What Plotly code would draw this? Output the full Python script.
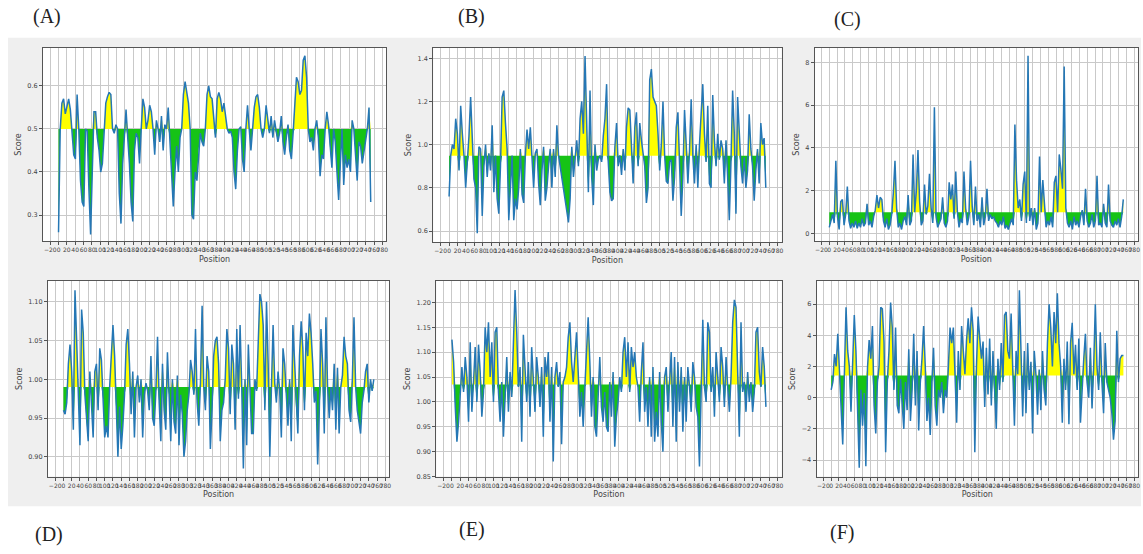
import numpy as np
import plotly.graph_objects as go

# Sequence length shared by all six profiles (residue positions 0 .. SEQ_LEN-1)
SEQ_LEN = 753

# (A) score profile, threshold 0.5
scores_a = [
    0.26, 0.50, 0.56, 0.57, 0.535, 0.55, 0.57, 0.545, 0.50, 0.44, 0.43, 0.58, 0.50, 0.38, 0.33, 0.32,
    0.50, 0.495, 0.36, 0.255, 0.40, 0.54, 0.54, 0.48, 0.45, 0.40, 0.42, 0.50, 0.56, 0.575, 0.585, 0.58,
    0.50, 0.49, 0.51, 0.50, 0.35, 0.28, 0.42, 0.48, 0.545, 0.48, 0.42, 0.33, 0.285, 0.45, 0.49, 0.48,
    0.42, 0.50, 0.57, 0.55, 0.50, 0.52, 0.555, 0.54, 0.50, 0.44, 0.52, 0.50, 0.47, 0.53, 0.45, 0.51,
    0.50, 0.55, 0.48, 0.40, 0.32, 0.40, 0.46, 0.40, 0.48, 0.50, 0.58, 0.61, 0.585, 0.56, 0.50, 0.30,
    0.29, 0.40, 0.38, 0.45, 0.49, 0.47, 0.46, 0.50, 0.58, 0.60, 0.575, 0.57, 0.52, 0.48, 0.57, 0.585,
    0.57, 0.54, 0.56, 0.53, 0.50, 0.49, 0.495, 0.48, 0.40, 0.36, 0.45, 0.50, 0.505, 0.43, 0.40, 0.50,
    0.555, 0.50, 0.45, 0.50, 0.55, 0.575, 0.58, 0.55, 0.50, 0.48, 0.50, 0.555, 0.52, 0.49, 0.53, 0.48,
    0.52, 0.49, 0.47, 0.49, 0.53, 0.47, 0.44, 0.48, 0.51, 0.45, 0.43, 0.49, 0.57, 0.62, 0.61, 0.58,
    0.59, 0.66, 0.67, 0.62, 0.50, 0.47, 0.48, 0.45, 0.50, 0.52, 0.48, 0.39, 0.44, 0.43, 0.50, 0.54,
    0.51, 0.45, 0.41, 0.50, 0.47, 0.40, 0.335, 0.42, 0.50, 0.37, 0.44, 0.41, 0.43, 0.40, 0.52, 0.50,
    0.45, 0.38, 0.47, 0.46, 0.42, 0.45, 0.48, 0.50, 0.55, 0.33,
]

# (B) score profile, threshold 0.948
scores_b = [
    0.76, 0.95, 1.00, 0.98, 1.12, 1.05, 0.88, 1.18, 1.05, 0.95, 0.80, 0.90, 1.04, 1.22, 0.98, 0.84,
    0.80, 0.59, 0.99, 0.98, 0.67, 0.90, 1.00, 0.85, 0.96, 0.88, 1.09, 0.78, 0.95, 0.75, 0.68, 0.90,
    1.22, 1.25, 1.10, 0.98, 0.65, 0.78, 0.95, 0.65, 0.75, 0.70, 0.80, 0.98, 0.77, 0.73, 0.95, 1.07,
    0.98, 1.08, 0.95, 0.80, 0.96, 0.98, 0.82, 0.72, 0.88, 0.99, 0.74, 0.80, 0.90, 0.98, 0.80, 0.98,
    0.85, 1.09, 0.95, 0.90, 0.85, 0.80, 0.75, 0.70, 0.64, 0.75, 0.99, 0.85, 0.95, 1.02, 0.90, 1.12,
    1.20, 1.05, 1.41, 1.10, 0.78, 1.25, 0.85, 0.72, 1.00, 0.88, 0.93, 0.95, 0.92, 1.04, 1.12, 1.28,
    0.92, 0.78, 0.74, 0.75, 0.99, 1.10, 0.90, 0.95, 0.86, 0.98, 0.88, 1.08, 1.17, 1.16, 0.98, 0.82,
    1.08, 1.15, 0.90, 1.10, 1.02, 0.95, 0.90, 0.73, 0.80, 1.30, 1.35, 1.22, 1.20, 1.18, 1.05, 0.88,
    1.00, 1.20, 0.95, 0.83, 0.82, 0.92, 0.93, 0.74, 0.85, 1.08, 1.15, 0.95, 0.67, 0.85, 1.16, 1.00,
    0.82, 0.97, 1.21, 0.95, 0.82, 1.00, 0.80, 1.00, 1.12, 1.28, 1.05, 0.92, 1.18, 0.82, 0.80, 1.23,
    1.02, 0.90, 1.05, 0.93, 1.02, 0.98, 0.82, 1.02, 0.85, 0.65, 0.92, 1.25, 1.05, 0.68, 1.22, 1.02,
    0.90, 0.82, 0.94, 0.80, 0.88, 1.14, 0.98, 0.90, 0.74, 0.88, 0.98, 0.82, 1.10, 1.00, 1.03, 0.80,
]

# (C) score profile, threshold 1.0
scores_c = [
    0.3, 0.6, 0.9, 0.5, 3.4, 0.8, 0.2, 1.5, 1.6, 0.4, 0.9, 2.2, 0.6, 0.25, 0.5, 0.3,
    0.6, 0.25, 0.5, 0.3, 0.7, 0.35, 0.5, 1.4, 0.4, 0.6, 0.3, 0.8, 1.1, 1.8, 1.2, 1.7,
    1.6, 0.6, 0.3, 0.7, 0.2, 0.4, 0.9, 1.9, 3.4, 1.2, 0.3, 0.5, 0.2, 0.6, 0.8, 0.4,
    1.8, 0.4, 0.6, 3.7, 1.0, 2.0, 3.9, 1.5, 0.4, 0.6, 2.3, 0.9, 1.3, 2.8, 1.2, 0.5,
    5.9, 0.8, 0.3, 0.5, 0.7, 1.7, 0.5, 0.3, 0.6, 2.4, 1.6, 2.3, 0.7, 2.9, 1.0, 0.3,
    0.7, 0.5, 2.9, 1.2, 0.4, 0.8, 3.4, 1.3, 0.4, 2.2, 0.6, 0.9, 0.3, 1.7, 0.4, 0.8,
    2.1, 0.6, 0.9, 0.7, 0.8, 0.6, 0.5, 0.3, 0.6, 0.4, 0.8, 0.25, 0.4, 0.2, 0.5, 0.7,
    0.4, 5.1, 2.5, 1.2, 1.6, 0.6, 2.3, 2.9, 0.5, 8.3, 0.6, 1.2, 0.4, 1.2, 0.2, 0.5,
    3.6, 1.0, 2.5, 1.3, 0.3, 0.6, 0.4, 0.8, 0.3, 2.4, 2.7, 1.0, 3.7, 3.0, 2.1, 7.8,
    1.2, 0.5, 0.3, 0.6, 0.2, 0.8, 0.4, 0.6, 0.3, 0.8, 1.1, 0.4, 2.1, 0.6, 0.3, 0.5,
    0.9, 0.3, 0.6, 2.7, 0.4, 0.5, 0.3, 1.4, 0.5, 0.3, 2.3, 0.6, 0.4, 0.3, 0.6, 0.4,
    0.7, 0.3, 0.8, 1.6,
]

# (D) score profile, threshold 0.990
scores_d = [
    0.96, 0.955, 0.97, 1.02, 1.045, 1.01, 0.935, 1.115, 1.05, 0.99, 0.915, 1.09, 1.06, 0.98, 0.945, 0.92,
    1.01, 0.975, 0.925, 1.01, 1.02, 0.96, 1.04, 1.025, 0.975, 0.925, 0.94, 0.925, 0.99, 1.035, 1.07, 1.03,
    0.96, 0.90, 0.965, 0.91, 0.94, 0.98, 1.045, 1.065, 1.02, 0.955, 1.01, 0.925, 0.99, 1.005, 0.97, 1.00,
    0.925, 0.98, 0.995, 0.985, 0.96, 1.03, 0.95, 0.94, 0.985, 1.055, 0.97, 0.92, 1.02, 0.96, 0.935, 1.035,
    0.98, 0.92, 1.00, 0.945, 0.93, 1.005, 0.915, 0.98, 0.955, 0.90, 0.92, 0.96, 0.98, 1.025, 1.01, 0.98,
    1.065, 0.97, 0.94, 0.995, 1.095, 0.99, 0.96, 1.03, 1.01, 0.91, 0.96, 1.03, 1.05, 1.055, 1.02, 0.92,
    0.96, 0.97, 1.00, 1.065, 1.04, 0.955, 1.045, 1.02, 0.935, 1.065, 0.975, 1.07, 0.99, 0.885, 1.00, 0.915,
    1.045, 0.99, 0.93, 0.93, 1.00, 0.985, 1.05, 1.11, 1.10, 1.07, 0.96, 1.10, 1.02, 0.90, 0.99, 1.07,
    0.995, 0.97, 1.01, 0.985, 0.925, 1.04, 1.02, 0.98, 0.94, 1.00, 0.92, 1.07, 1.02, 0.96, 0.93, 1.03,
    1.075, 1.04, 0.96, 1.06, 1.03, 1.085, 1.06, 1.02, 0.97, 0.985, 0.89, 0.96, 1.065, 1.02, 0.93, 1.08,
    0.99, 0.95, 0.99, 0.96, 1.02, 0.935, 1.015, 0.93, 0.99, 1.005, 1.055, 1.03, 1.02, 0.96, 0.945, 1.00,
    1.08, 0.99, 0.96, 0.945, 0.93, 0.97, 0.985, 1.01, 1.02, 0.97, 1.00, 0.985, 1.00,
]

# (E) score profile, threshold 1.035
scores_e = [
    1.125, 1.08, 0.99, 0.92, 0.96, 1.03, 1.07, 1.02, 1.09, 1.05, 0.96, 1.12, 0.98, 1.04, 1.11, 1.00,
    1.115, 1.06, 0.97, 1.02, 1.15, 1.10, 1.16, 1.05, 1.12, 1.00, 1.14, 1.15, 1.02, 0.96, 1.04, 0.93,
    1.00, 1.09, 0.98, 1.06, 1.01, 1.10, 1.225, 1.14, 1.03, 1.07, 0.92, 1.135, 1.05, 1.00, 1.08, 0.97,
    1.11, 1.03, 0.98, 1.09, 1.05, 0.99, 1.07, 0.93, 1.09, 1.05, 1.10, 0.96, 1.07, 0.88, 1.05, 1.08,
    1.03, 1.06, 0.915, 1.04, 1.05, 1.07, 1.13, 1.16, 1.08, 1.04, 1.10, 1.14, 1.06, 0.97, 1.02, 0.95,
    1.03, 1.10, 1.17, 1.08, 0.97, 1.05, 0.95, 0.93, 1.03, 1.09, 0.99, 0.96, 1.02, 0.95, 0.94, 1.04,
    0.97, 1.06, 0.91, 0.97, 1.00, 1.05, 1.02, 1.10, 1.13, 1.05, 1.12, 1.02, 1.11, 1.07, 1.10, 1.05,
    1.03, 0.96, 1.06, 1.12, 0.98, 1.03, 0.95, 1.05, 0.93, 1.07, 0.92, 0.98, 0.93, 1.06, 0.96, 0.90,
    1.05, 1.07, 0.98, 1.05, 1.10, 0.95, 1.09, 0.92, 1.08, 0.98, 1.07, 0.94, 1.05, 0.96, 1.07, 1.03,
    0.98, 1.08, 1.05, 0.99, 0.97, 0.87, 1.05, 1.165, 1.03, 1.00, 1.16, 1.14, 1.02, 1.07, 0.97, 1.10,
    1.05, 1.00, 1.11, 1.07, 0.99, 1.09, 1.03, 0.98, 1.05, 1.16, 1.205, 1.19, 1.06, 0.93, 1.16, 1.02,
    1.04, 0.98, 1.06, 1.00, 1.04, 0.98, 1.02, 1.14, 1.15, 1.06, 1.03, 1.11, 1.07, 0.99,
]

# (F) score profile, threshold 1.43
scores_f = [
    0.5, 1.0, 2.8, 2.0, 4.1, 1.5, -0.5, -3.0, 1.5, 5.8, 3.0, 2.0, -0.9, 2.0, 5.3, 3.0,
    -1.0, -4.5, 0.5, -1.8, 0.3, -4.4, 1.9, 3.7, 2.5, 4.6, -0.5, -2.3, 1.0, 2.0, 5.8, 5.7,
    3.6, -3.5, 1.0, 3.0, 6.1, 4.5, 0.5, 4.5, -0.5, -1.0, 1.2, -0.2, -2.0, 1.0, -0.8, 3.1,
    -1.5, 0.5, 4.1, -0.5, 3.0, -2.1, 1.0, 2.5, 4.6, 2.0, -1.5, 0.0, -2.4, 1.0, 3.2, -0.5,
    -1.8, 0.5, 0.0, 1.0, -1.0, 0.5, 0.0, 2.0, 4.5, 3.5, 4.5, 1.5, -1.6, 3.0, 0.5, 4.6,
    3.0, 1.5, 3.7, 5.1, 3.5, 5.8, 4.3, -3.5, 2.0, 5.2, 3.8, 2.5, 3.6, -0.6, 3.2, 0.2,
    3.8, -0.5, 3.0, 0.0, -2.0, 2.5, 0.5, 3.5, 1.0, 5.3, 5.5, 3.0, 2.5, 5.4, 2.0, -1.8,
    3.0, 1.5, 6.9, 2.0, -1.2, 3.0, -1.0, 3.5, 0.5, 2.3, -2.3, 3.0, 1.5, -1.1, 1.8, -0.8,
    3.0, 0.5, -0.5, 3.5, 6.0, 4.5, 2.0, 5.5, 3.5, 6.7, 3.5, 2.0, -1.6, 2.5, 0.5, 3.6,
    -1.7, 3.5, 4.8, 1.5, 3.4, 0.5, 3.8, -1.6, 1.0, 2.5, 4.1, 1.0, 0.0, 3.2, -0.7, 2.0,
    6.0, 2.0, 0.5, 4.2, 1.0, -1.0, 3.5, 1.0, 0.5, 0.0, -1.0, -2.7, -1.5, 4.3, 1.0, 2.5,
    2.7, 2.7,
]

thresholds = [0.5, 0.948, 1.0, 0.990, 1.035, 1.43]
panel_labels = ["(A)", "(B)", "(C)", "(D)", "(E)", "(F)"]
y_ranges = [[0.239, 0.689], [0.548, 1.449], [-0.35, 8.68],
            [0.8745, 1.127], [0.85, 1.243], [-5.06, 7.49]]
y_ticks = [[0.3, 0.4, 0.5, 0.6], [0.6, 0.8, 1.0, 1.2, 1.4], [0, 2, 4, 6, 8],
           [0.90, 0.95, 1.00, 1.05, 1.10], [0.85, 0.90, 0.95, 1.00, 1.05, 1.10, 1.15, 1.20],
           [-4, -2, 0, 2, 4, 6]]
y_fmt = [".1f", ".1f", "d", ".2f", ".2f", "d"]
all_scores = [scores_a, scores_b, scores_c, scores_d, scores_e, scores_f]

W, H = 1143, 554
# plot-area boxes in pixels: (left, right, top, bottom)
boxes = [(43, 387, 48, 243), (434, 783, 48, 244), (816, 1140, 48, 243),
         (48, 390, 283, 480), (437, 783, 283, 480), (818, 1140, 283, 480)]
label_xy = [(47, 17), (472, 17), (849, 20), (49, 538), (473, 533), (843, 536)]

LINE = "#2577b5"
YELLOW = "#ffff00"
GREEN = "#16c316"
AXC = "#555555"
GRID = "#c9c9c9"
TXT = "#444444"

fig = go.Figure()
shapes = [dict(type="rect", xref="paper", yref="paper", x0=8 / W, x1=1.0,
               y0=1 - 510 / H, y1=1 - 38 / H, fillcolor="#efefef",
               line=dict(width=0), layer="below")]
annotations = []

xmin, xmax = -0.05 * (SEQ_LEN - 1), 1.05 * (SEQ_LEN - 1)

for i, vals in enumerate(all_scores):
    v = np.array(vals, dtype=float)
    pos = np.linspace(0, SEQ_LEN - 1, len(v))
    thr = thresholds[i]
    base = np.full_like(v, thr)
    upper = np.where(v > thr, v, thr)
    lower = np.where(v < thr, v, thr)
    xa = "x" if i == 0 else f"x{i + 1}"
    ya = "y" if i == 0 else f"y{i + 1}"
    common = dict(xaxis=xa, yaxis=ya, mode="lines", showlegend=False, hoverinfo="skip")
    fig.add_trace(go.Scatter(x=pos, y=base, line=dict(width=0), **common))
    fig.add_trace(go.Scatter(x=pos, y=upper, line=dict(width=0), fill="tonexty",
                             fillcolor=YELLOW, **common))
    fig.add_trace(go.Scatter(x=pos, y=base, line=dict(width=0), **common))
    fig.add_trace(go.Scatter(x=pos, y=lower, line=dict(width=0), fill="tonexty",
                             fillcolor=GREEN, **common))
    fig.add_trace(go.Scatter(x=pos, y=v, line=dict(color=LINE, width=1.5), **common))

    l, r, t, b = boxes[i]
    xkey = "xaxis" if i == 0 else f"xaxis{i + 1}"
    ykey = "yaxis" if i == 0 else f"yaxis{i + 1}"
    fig.layout[xkey] = dict(
        domain=[l / W, r / W], anchor=ya, range=[xmin, xmax],
        tickmode="linear", tick0=-20, dtick=20,
        tickfont=dict(family="DejaVu Sans", size=6, color=TXT),
        ticks="outside", ticklen=3, tickcolor=AXC, tickangle=0,
        showgrid=True, gridcolor=GRID, gridwidth=0.8,
        showline=True, linecolor=AXC, linewidth=1, mirror=True,
        zeroline=False,
        title=dict(text="Position", font=dict(family="DejaVu Sans", size=8, color=TXT),
                   standoff=3),
    )
    fig.layout[ykey] = dict(
        domain=[1 - b / H, 1 - t / H], anchor=xa, range=y_ranges[i],
        tickmode="array", tickvals=y_ticks[i], tickformat=y_fmt[i],
        tickfont=dict(family="DejaVu Sans", size=6.5, color=TXT),
        ticks="outside", ticklen=3, tickcolor=AXC,
        showgrid=True, gridcolor=GRID, gridwidth=0.8,
        showline=True, linecolor=AXC, linewidth=1, mirror=True,
        zeroline=False,
        title=dict(text="Score", font=dict(family="DejaVu Sans", size=8, color=TXT),
                   standoff=4),
    )
    shapes.append(dict(type="rect", xref="paper", yref="paper",
                       x0=l / W, x1=r / W, y0=1 - b / H, y1=1 - t / H,
                       fillcolor="white", line=dict(width=0), layer="below"))
    lx, ly = label_xy[i]
    annotations.append(dict(text=panel_labels[i], xref="paper", yref="paper",
                            x=lx / W, y=1 - ly / H, xanchor="center", yanchor="middle",
                            showarrow=False,
                            font=dict(family="Liberation Serif", size=20, color="#222")))

fig.update_layout(
    width=W, height=H, margin=dict(l=0, r=0, t=0, b=0),
    paper_bgcolor="white", plot_bgcolor="white",
    shapes=shapes, annotations=annotations,
)

fig.write_html("out.html")
